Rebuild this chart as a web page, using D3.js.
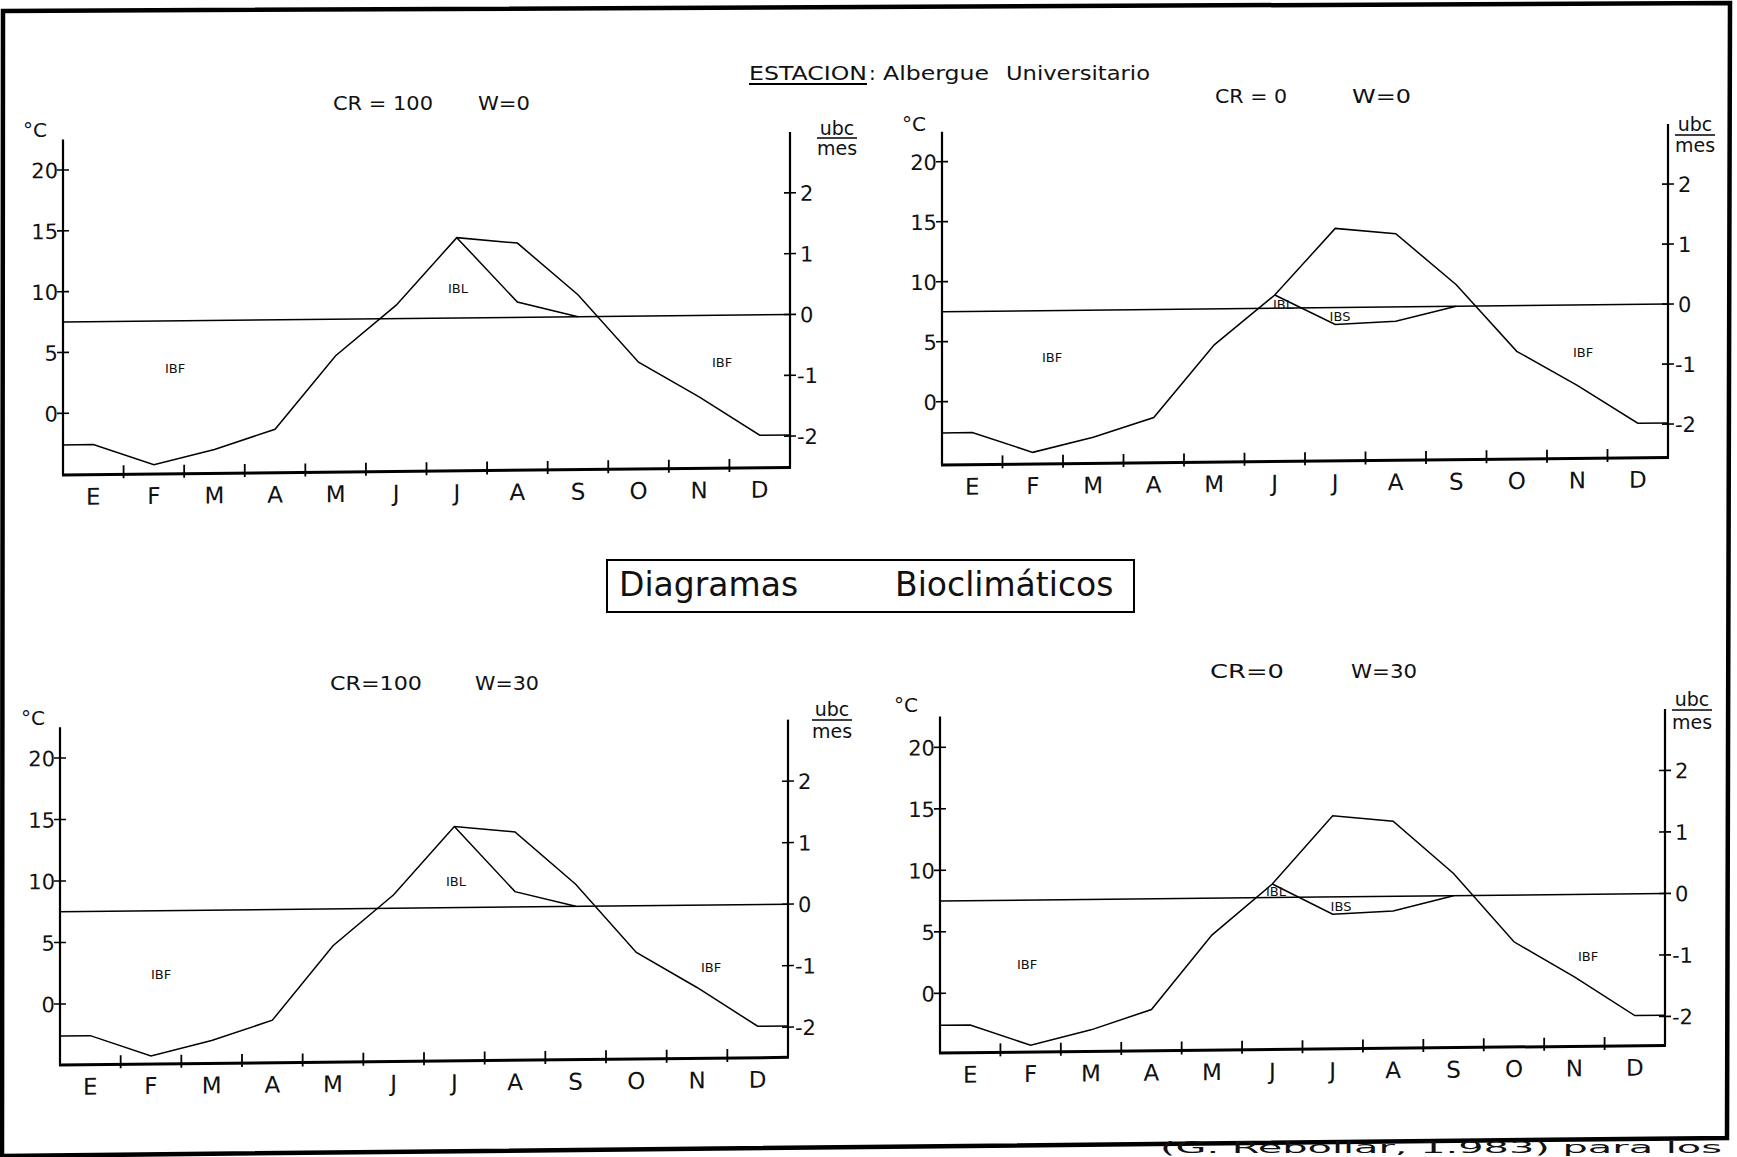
<!DOCTYPE html>
<html>
<head>
<meta charset="utf-8">
<title>Diagramas Bioclimáticos</title>
<script src="https://d3js.org/d3.v7.min.js"></script>
<style>
  body { margin: 0; background: #fff; }
  svg { display: block; }
  text { font-family: "DejaVu Sans", sans-serif; fill: #111; }
</style>
</head>
<body>
<svg id="chart" width="1737" height="1157"></svg>
<script>
// monthly values
const months = ["E", "F", "M", "A", "M", "J", "J", "A", "S", "O", "N", "D"];
const tempC = [-2.6, -4.3, -3.1, -1.5, 4.5, 8.6, 14.1, 13.6, 9.3, 3.7, 0.8, -2.4];
// bioclimatic intensity line (ubc/mes) where it leaves the temperature line
const ibCR100 = [null, null, null, null, null, null, 1.32, 0.25, 0, null, null, null];
const ibCR0 = [null, null, null, null, null, 0.22, -0.28, -0.24, 0, null, null, null];
const tempTicks = [0, 5, 10, 15, 20];
const ubcTicks = [-2, -1, 0, 1, 2];
const crLabels = ["CR = 100", "CR = 0", "CR=100", "CR=0"];
const wLabels = ["W=0", "W=0", "W=30", "W=30"];

const ubcZero = 7.5, ubcUnit = 5;   // 0 ubc = 7.5 C, 1 ubc = 5 C
const skew = -0.6;                  // scan tilt

const svg = d3.select("#chart");

// page frame
svg.append("path")
    .attr("d", "M3,11 L1730,3 L1727,1138 L2,1156 Z")
    .attr("fill", "none")
    .attr("stroke", "#000")
    .attr("stroke-width", 4.5);

// station heading
const head = svg.append("g");
head.append("text").attr("x", 749).attr("y", 80).attr("font-size", 20)
    .attr("textLength", 118).attr("lengthAdjust", "spacingAndGlyphs").text("ESTACION");
head.append("line").attr("x1", 749).attr("x2", 867).attr("y1", 84).attr("y2", 84)
    .attr("stroke", "#000").attr("stroke-width", 2);
head.append("text").attr("x", 869).attr("y", 80).attr("font-size", 20).text(":");
head.append("text").attr("x", 883).attr("y", 80).attr("font-size", 20)
    .attr("textLength", 106).attr("lengthAdjust", "spacingAndGlyphs").text("Albergue");
head.append("text").attr("x", 1006).attr("y", 80).attr("font-size", 20)
    .attr("textLength", 144).attr("lengthAdjust", "spacingAndGlyphs").text("Universitario");

// centre box
svg.append("rect").attr("x", 607).attr("y", 560).attr("width", 527).attr("height", 52)
    .attr("fill", "none").attr("stroke", "#000").attr("stroke-width", 2);
svg.append("text").attr("x", 619).attr("y", 596).attr("font-size", 33).text("Diagramas");
svg.append("text").attr("x", 895).attr("y", 596).attr("font-size", 33).text("Bioclimáticos");

// caption under the frame
svg.append("text").attr("x", 1160).attr("y", 1153)
    .attr("font-family", "Liberation Mono, monospace").attr("font-size", 15)
    .attr("textLength", 562).attr("lengthAdjust", "spacingAndGlyphs")
    .text("(G. Rebollar, 1.983) para los");

const panels = [
    { left: 63, right: 790, bottom: 475, y0: 413.3, y20: 170, ib: ibCR100,
      cr: [333, 433, 110], w: [478, 530], deg: [23, 137], ubc: [837, 135, 138, 155],
      tags: [["IBF", 175, 373], ["IBL", 458, 293], ["IBF", 722, 367]] },
    { left: 942, right: 1668, bottom: 465, y0: 401.7, y20: 161.7, ib: ibCR0,
      cr: [1215, 1287, 103], w: [1352, 1411], deg: [902, 131], ubc: [1695, 131, 135, 152],
      tags: [["IBF", 1052, 362], ["IBL", 1283, 309], ["IBS", 1340, 321], ["IBF", 1583, 357]] },
    { left: 60, right: 788, bottom: 1065, y0: 1004, y20: 758, ib: ibCR100,
      cr: [330, 422, 690], w: [475, 539], deg: [21, 725], ubc: [832, 716, 720, 738],
      tags: [["IBF", 161, 979], ["IBL", 456, 886], ["IBF", 711, 972]] },
    { left: 940, right: 1665, bottom: 1053, y0: 993.3, y20: 747.3, ib: ibCR0,
      cr: [1210, 1284, 678], w: [1351, 1417], deg: [894, 712], ubc: [1692, 706, 710, 729],
      tags: [["IBF", 1027, 969], ["IBL", 1276, 896], ["IBS", 1341, 911], ["IBF", 1588, 961]] }
];

panels.forEach((p, i) => {
    const x = d3.scaleLinear().domain([0, 12]).range([p.left, p.right]);
    const yT = d3.scaleLinear().domain([0, 20]).range([p.y0, p.y20]);
    const yU = d3.scaleLinear().domain([0, 1]).range([yT(ubcZero), yT(ubcZero + ubcUnit)]);
    const top = yT(22.5);

    const g = svg.append("g")
        .attr("transform", `translate(${p.left},${p.bottom}) skewY(${skew}) translate(${-p.left},${-p.bottom})`);

    // axes
    g.append("line").attr("x1", p.left).attr("x2", p.left).attr("y1", top).attr("y2", p.bottom)
        .attr("stroke", "#000").attr("stroke-width", 2.2);
    g.append("line").attr("x1", p.right).attr("x2", p.right).attr("y1", top).attr("y2", p.bottom)
        .attr("stroke", "#000").attr("stroke-width", 2.2);
    g.append("line").attr("x1", p.left - 1).attr("x2", p.right + 1).attr("y1", p.bottom).attr("y2", p.bottom)
        .attr("stroke", "#000").attr("stroke-width", 3);

    // left ticks (°C)
    tempTicks.forEach(t => {
        g.append("line").attr("x1", p.left - 6).attr("x2", p.left + 6)
            .attr("y1", yT(t)).attr("y2", yT(t)).attr("stroke", "#000").attr("stroke-width", 1.6);
        g.append("text").attr("x", p.left - 5).attr("y", yT(t) + 8)
            .attr("text-anchor", "end").attr("font-size", 21).text(t);
    });

    // right ticks (ubc/mes)
    ubcTicks.forEach(u => {
        g.append("line").attr("x1", p.right - 6).attr("x2", p.right + 6)
            .attr("y1", yU(u)).attr("y2", yU(u)).attr("stroke", "#000").attr("stroke-width", 1.6);
        g.append("text").attr("x", p.right + (u < 0 ? 7 : 10)).attr("y", yU(u) + 8)
            .attr("font-size", 21).text(u);
    });

    // month ticks and labels
    d3.range(1, 12).forEach(m => {
        g.append("line").attr("x1", x(m)).attr("x2", x(m))
            .attr("y1", p.bottom - 9).attr("y2", p.bottom + 4)
            .attr("stroke", "#000").attr("stroke-width", 1.8);
    });
    months.forEach((m, k) => {
        g.append("text").attr("x", x(k + 0.5)).attr("y", p.bottom + 30)
            .attr("text-anchor", "middle").attr("font-size", 23).text(m);
    });

    // 0 ubc line
    g.append("line").attr("x1", p.left).attr("x2", p.right)
        .attr("y1", yU(0)).attr("y2", yU(0)).attr("stroke", "#000").attr("stroke-width", 1.5);

    // temperature line, flat to both axes
    const pts = [{ m: 0, v: tempC[0] }]
        .concat(tempC.map((v, k) => ({ m: k + 0.5, v: v })))
        .concat([{ m: 12, v: tempC[11] }]);
    g.append("path")
        .attr("d", d3.line().x(d => x(d.m)).y(d => yT(d.v))(pts))
        .attr("fill", "none").attr("stroke", "#000").attr("stroke-width", 1.5);

    // bioclimatic intensity line
    const ibPts = p.ib.map((v, k) => ({ m: k + 0.5, v: v })).filter(d => d.v !== null);
    g.append("path")
        .attr("d", d3.line().x(d => x(d.m)).y(d => yU(d.v))(ibPts))
        .attr("fill", "none").attr("stroke", "#000").attr("stroke-width", 1.5);

    // titles and units
    svg.append("text").attr("x", p.cr[0]).attr("y", p.cr[2]).attr("font-size", 20)
        .attr("textLength", p.cr[1] - p.cr[0]).attr("lengthAdjust", "spacingAndGlyphs").text(crLabels[i]);
    svg.append("text").attr("x", p.w[0]).attr("y", p.cr[2]).attr("font-size", 20)
        .attr("textLength", p.w[1] - p.w[0]).attr("lengthAdjust", "spacingAndGlyphs").text(wLabels[i]);
    svg.append("text").attr("x", p.deg[0]).attr("y", p.deg[1]).attr("font-size", 20).text("°C");
    svg.append("text").attr("x", p.ubc[0]).attr("y", p.ubc[1]).attr("text-anchor", "middle")
        .attr("font-size", 19).text("ubc");
    svg.append("line").attr("x1", p.ubc[0] - 20).attr("x2", p.ubc[0] + 20)
        .attr("y1", p.ubc[2]).attr("y2", p.ubc[2]).attr("stroke", "#000").attr("stroke-width", 1.6);
    svg.append("text").attr("x", p.ubc[0]).attr("y", p.ubc[3]).attr("text-anchor", "middle")
        .attr("font-size", 19).text("mes");

    p.tags.forEach(t => {
        svg.append("text").attr("x", t[1]).attr("y", t[2]).attr("text-anchor", "middle")
            .attr("font-size", 13).text(t[0]);
    });
});
</script>
</body>
</html>
